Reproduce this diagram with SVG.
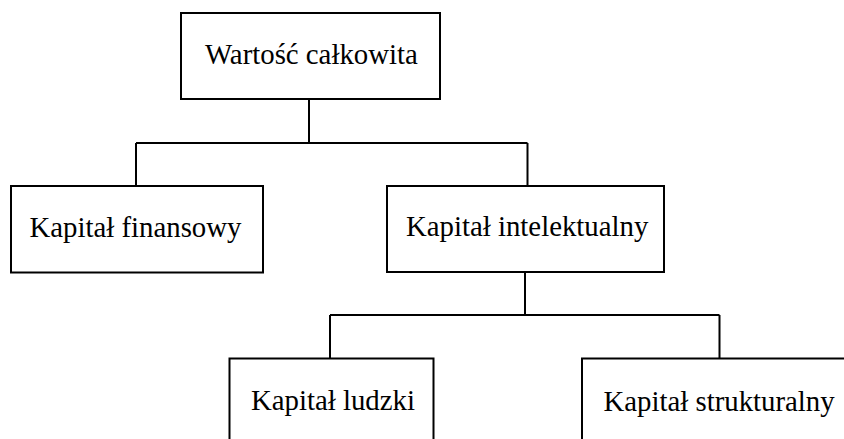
<svg xmlns="http://www.w3.org/2000/svg" width="844" height="439" viewBox="0 0 844 439">
<style>
.box{fill:#fff;stroke:#000;stroke-width:2}
.lbl{font-family:"Liberation Serif","Times New Roman",serif;font-size:28.8px;fill:#000}
.con{fill:none;stroke:#000;stroke-width:2}
</style>
<rect width="844" height="439" fill="#fff"/>
<g id="connectors">
<path class="con" d="M309,99 V143 M136,143 H527.5 M136,143 V186 M527.5,143 V186"/>
<path class="con" d="M525,272 V315 M330,315 H719.5 M330,315 V358.5 M719.5,315 V358.5"/>
</g>
<g id="n-wartosc">
<rect class="box" x="181" y="13" width="259" height="86"/>
<text class="lbl" x="205" y="63.5">Wartość całkowita</text>
</g>
<g id="n-finansowy">
<rect class="box" x="11" y="186" width="252" height="86.5"/>
<text class="lbl" x="29.5" y="236.5">Kapitał finansowy</text>
</g>
<g id="n-intelektualny">
<rect class="box" x="387" y="186" width="277" height="86"/>
<text class="lbl" x="406" y="235.5">Kapitał intelektualny</text>
</g>
<g id="n-ludzki">
<rect class="box" x="229.5" y="358.5" width="204" height="90"/>
<text class="lbl" x="251" y="410">Kapitał ludzki</text>
</g>
<g id="n-strukturalny">
<rect class="box" x="582" y="358.5" width="280" height="90"/>
<text class="lbl" x="603.5" y="410.5">Kapitał strukturalny</text>
</g>
</svg>
